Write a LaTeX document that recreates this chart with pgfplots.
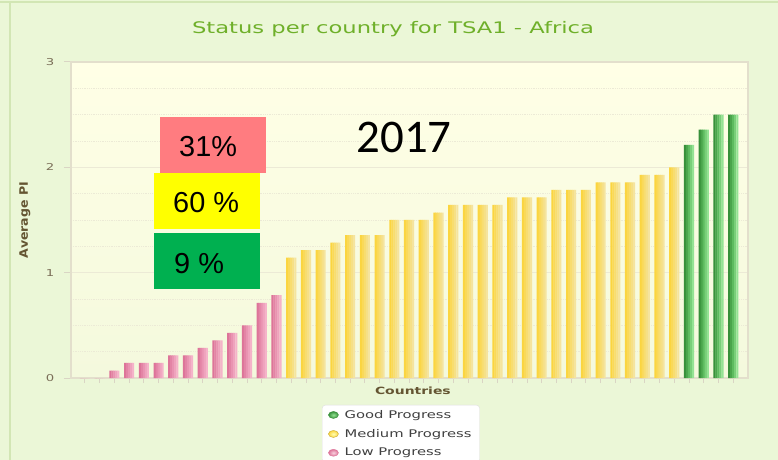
\documentclass[border=0pt]{standalone}
\usepackage{fontspec}
\setmainfont{DejaVu Sans}
\usepackage{pgfplots}
\pgfplotsset{compat=1.18}
\newfontfamily\titlefont[FakeStretch=1.42]{DejaVu Sans}
\newfontfamily\stfont[FakeStretch=1.4]{DejaVu Sans}
\newfontfamily\boxfont{Liberation Sans}
\newfontfamily\yearfont{Carlito}
\definecolor{bg}{HTML}{EBF7D7}
\definecolor{frame}{HTML}{D2E6B4}
\definecolor{plottop}{HTML}{FFFFE6}
\definecolor{plotbot}{HTML}{F4F9DD}
\definecolor{axisline}{HTML}{E3DFCC}
\definecolor{gridcol}{HTML}{ECEAD6}
\definecolor{tickcol}{HTML}{D9D5C4}
\definecolor{titlecol}{HTML}{6FB02A}
\definecolor{ticktext}{HTML}{7A6E58}
\definecolor{labtext}{HTML}{645532}
\definecolor{legtext}{HTML}{404040}
\definecolor{lowL}{HTML}{DD7499}
\definecolor{lowR}{HTML}{F5B3C9}
\definecolor{medL}{HTML}{FBD540}
\definecolor{medR}{HTML}{F5E49E}
\definecolor{goodL}{HTML}{37903A}
\definecolor{goodM}{HTML}{5DBB5F}
\definecolor{goodR}{HTML}{94E394}
\definecolor{redbox}{HTML}{FF7C80}
\definecolor{yelbox}{HTML}{FFFF00}
\definecolor{grnbox}{HTML}{00B050}
\pgfplotstableread{
x y
0 0
1 0
2 0.071
3 0.143
4 0.143
5 0.143
6 0.214
7 0.214
8 0.286
9 0.357
10 0.429
11 0.5
12 0.714
13 0.786
}\lowdata
\pgfplotstableread{
x y
14 1.143
15 1.214
16 1.214
17 1.286
18 1.357
19 1.357
20 1.357
21 1.5
22 1.5
23 1.5
24 1.571
25 1.643
26 1.643
27 1.643
28 1.643
29 1.714
30 1.714
31 1.714
32 1.786
33 1.786
34 1.786
35 1.857
36 1.857
37 1.857
38 1.929
39 1.929
40 2.0
}\meddata
\pgfplotstableread{
x y
41 2.214
42 2.357
43 2.5
44 2.5
}\gooddata
\pgfplotsset{strip/.style={ybar, bar width=2.3bp, draw=none, forget plot}}
\begin{document}
\begin{tikzpicture}
\path[use as bounding box] (-71bp,-82bp) rectangle (707bp,378bp);
\clip (-71bp,-82bp) rectangle (707bp,378bp);
\fill[bg] (-71bp,-82bp) rectangle (707bp,378bp);
\draw[frame, line width=2bp] (-71bp,375.5bp) -- (707bp,375.5bp);
\draw[frame, line width=1.5bp] (-61bp,-82bp) -- (-61bp,375.5bp);
\begin{axis}[
  at={(0,0)}, anchor=south west,
  scale only axis, width=677bp, height=316bp,
  xmin=-0.95, xmax=45, ymin=0, ymax=3,
  axis background/.style={top color=plottop, bottom color=plotbot},
  axis line style={axisline, line width=1.5bp},
  tick pos=left, tick align=outside,
  xtick={0,...,44}, xticklabels={},
  xtick style={tickcol, line width=1bp, /pgfplots/major tick length=5bp},
  ytick={0,1,2,3},
  ytick style={tickcol, line width=1bp, /pgfplots/major tick length=7bp},
  minor y tick num=3,
  minor tick length=0pt,
  ymajorgrids, yminorgrids,
  major grid style={gridcol, line width=1bp},
  minor grid style={gridcol, line width=0.8bp, densely dotted},
  /pgf/number format/assume math mode=true,
  yticklabel style={font=\fontsize{9.5}{11}\stfont, text=ticktext, xshift=-9bp},
  title={Status per country for TSA1 - Africa},
  title style={font=\fontsize{16}{18}\titlefont, text=titlecol, at={(axis description cs:0.4756,1)}, anchor=center, yshift=27bp},
  xlabel={Countries},
  xlabel style={font=\fontsize{10}{11}\stfont\bfseries, text=labtext, at={(axis description cs:0.505,0)}, anchor=center, yshift=-13bp},
  ylabel={Average PI},
  ylabel style={font=\fontsize{9}{11}\stfont\bfseries, text=labtext, at={(axis description cs:-0.068,0.5)}, anchor=center, yscale=1.3},
  legend cell align=left,
  legend style={at={(0.3708,-0.0854)}, anchor=north west, draw=gray!25, fill=white, rounded corners=3bp, font=\fontsize{10.6}{12}\stfont, text=legtext, row sep=5.5bp, column sep=4bp, inner xsep=6bp, inner ysep=3bp},
]
\addplot[strip, bar shift=-4bp, fill=lowL] table {\lowdata};
\addplot[strip, bar shift=-2bp, fill=lowR!25!lowL] table {\lowdata};
\addplot[strip, bar shift=0bp, fill=lowR!50!lowL] table {\lowdata};
\addplot[strip, bar shift=2bp, fill=lowR!75!lowL] table {\lowdata};
\addplot[strip, bar shift=4bp, bar width=2bp, fill=lowR] table {\lowdata};
\addplot[strip, bar shift=-4bp, fill=medL] table {\meddata};
\addplot[strip, bar shift=-2bp, fill=medR!25!medL] table {\meddata};
\addplot[strip, bar shift=0bp, fill=medR!50!medL] table {\meddata};
\addplot[strip, bar shift=2bp, fill=medR!75!medL] table {\meddata};
\addplot[strip, bar shift=4bp, bar width=2bp, fill=medR] table {\meddata};
\addplot[strip, bar shift=-4bp, fill=goodL] table {\gooddata};
\addplot[strip, bar shift=-2bp, fill=goodM!50!goodL] table {\gooddata};
\addplot[strip, bar shift=0bp, fill=goodM] table {\gooddata};
\addplot[strip, bar shift=2bp, fill=goodR!50!goodM] table {\gooddata};
\addplot[strip, bar shift=4bp, bar width=2bp, fill=goodR] table {\gooddata};
\addlegendimage{legend image code/.code={\path[draw=goodL, line width=0.4bp, inner color=goodR, outer color=goodL] (5bp,0bp) ellipse (5bp and 3.5bp);}}
\addlegendentry{Good Progress}
\addlegendimage{legend image code/.code={\path[draw=medL!80!black, line width=0.4bp, inner color=yellow!30, outer color=medL] (5bp,0bp) ellipse (5bp and 3.5bp);}}
\addlegendentry{Medium Progress}
\addlegendimage{legend image code/.code={\path[draw=lowL, line width=0.4bp, inner color=lowR!60, outer color=lowL] (5bp,0bp) ellipse (5bp and 3.5bp);}}
\addlegendentry{Low Progress}
\end{axis}
\fill[redbox] (89bp,204.7bp) rectangle (194.7bp,260.7bp);
\fill[yelbox] (83bp,149bp) rectangle (189bp,204.7bp);
\fill[grnbox] (83bp,89bp) rectangle (189bp,145.3bp);
\node[anchor=base west, inner sep=0pt, font=\fontsize{29}{30}\boxfont] at (108bp,221bp) {31\%};
\node[anchor=base west, inner sep=0pt, font=\fontsize{29}{30}\boxfont] at (102bp,165.7bp) {60 \%};
\node[anchor=base west, inner sep=0pt, font=\fontsize{29}{30}\boxfont] at (103bp,104.7bp) {9 \%};
\node[anchor=base, inner sep=0pt, font=\fontsize{47}{50}\yearfont] at (333bp,225.7bp) {2017};
\end{tikzpicture}
\end{document}
